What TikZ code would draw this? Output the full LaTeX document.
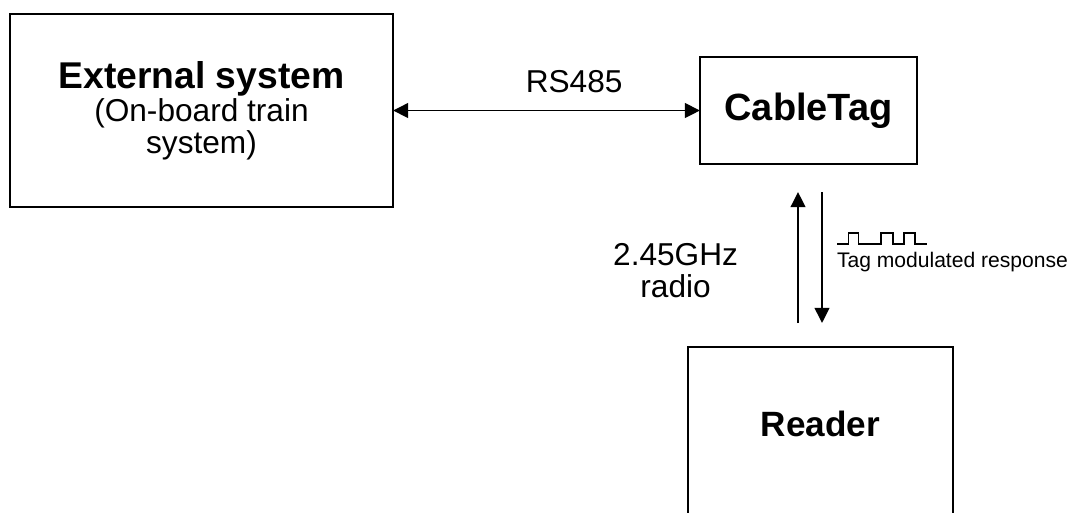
\documentclass[tikz,border=0pt]{standalone}
\usepackage{fontspec}
\setmainfont{Liberation Sans}
\usepackage{tikz}
\usetikzlibrary{arrows.meta}
\usetikzlibrary{positioning}
\newcommand*{\titlefont}{\fontsize{25}{27}\selectfont\bfseries}
\newcommand*{\tagfont}{\fontsize{27}{29}\selectfont\bfseries}
\newcommand*{\labelfont}{\fontsize{22.5}{22.5}\selectfont}
\newcommand*{\notefont}{\fontsize{15}{17}\selectfont}
\tikzstyle{base}=[x=0.25mm, y=-0.25mm, inner sep=0pt, outer sep=0pt]
\tikzstyle{box}=[draw=black, line width=1.6pt, align=center]
\tikzstyle{link}=[line width=1.2pt, -{Triangle[length=3.8mm,width=3.7mm]}]
\tikzstyle{duplex}=[line width=1.2pt, {Triangle[length=3.8mm,width=3.7mm]}-{Triangle[length=3.8mm,width=3.7mm]}]
\tikzstyle{wave}=[line width=0.8pt]

\begin{document}
\begin{tikzpicture}[base]
    \path [use as bounding box] (0,0) rectangle (1076,512);
    \clip (0,0) rectangle (1076,512);
        % the three blocks
        \node [box, font=\labelfont, minimum width=95.75mm, minimum height=48.25mm] (ext) at (201.5,110.5)
            {{\titlefont\fontsize{26.5}{28}\selectfont External system}\\[1pt](On-board train\\system)};
        \node [box, minimum width=54.25mm, minimum height=26.75mm] (tag) at (808.5,110.5)
            {\tagfont CableTag};
        \node [box, minimum width=66.25mm, minimum height=55mm, anchor=north] (reader) at (820.5,347) {};
        \node [anchor=base] (readerlabel) at (820.5,436) {\titlefont Reader};
        % links
        \draw [duplex] (ext) -- node [pos=0.59, above=4.4mm] (rs) {\labelfont RS485} (tag);
        \coordinate (upfoot) at (798,323);
        \coordinate (uphead) at (798,192);
        \coordinate (downtop) at (822,192);
        \coordinate (downhead) at (822,323);
        \draw [link] (upfoot) -- node [pos=0.4, left=15mm, align=center, font=\labelfont] (radio) {2.45GHz\\radio} (uphead);
        \draw [link] (downtop) -- (downhead);
        \node [anchor=base west] (resp) at (837,267) {\notefont Tag modulated response};
        \draw [wave] (837,244) -- ++(11.3,0) -- ++(0,-11) -- ++(10,0) -- ++(0,11) -- ++(22.7,0)
            -- ++(0,-11) -- ++(12,0) -- ++(0,11) -- ++(11,0) -- ++(0,-11) -- ++(11,0) -- ++(0,11) -- ++(11.7,0);
\end{tikzpicture}
\end{document}
